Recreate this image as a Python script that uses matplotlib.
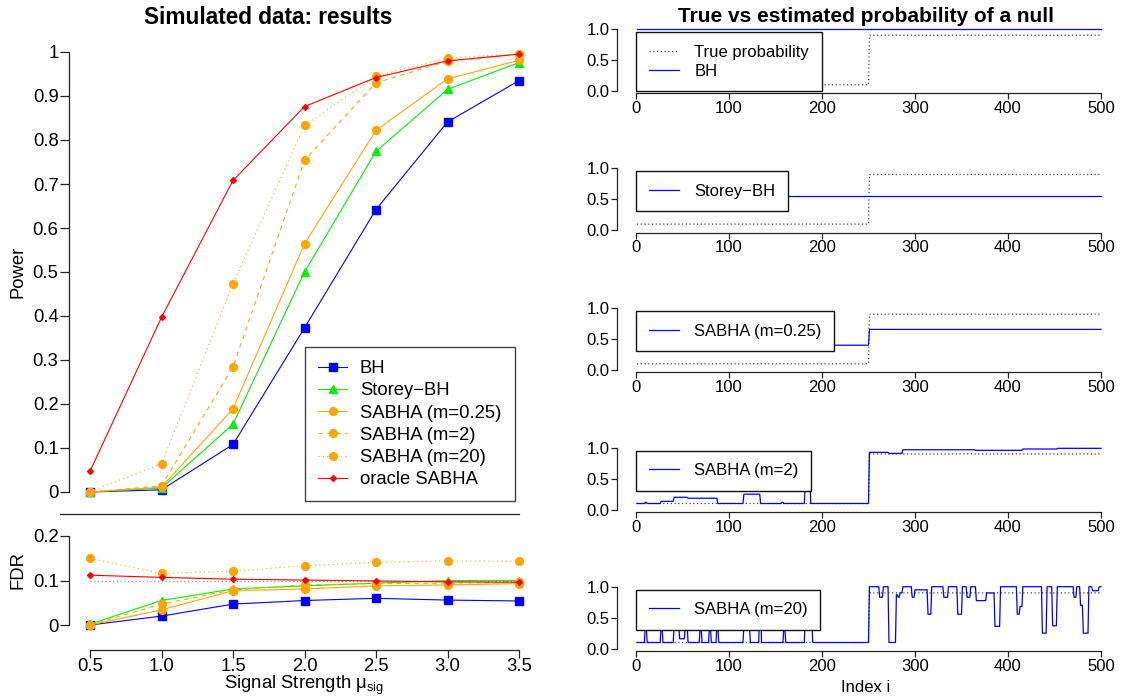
import numpy as np
import matplotlib
matplotlib.use("Agg")
import matplotlib.pyplot as plt

plt.rcParams['font.family'] = ['Liberation Sans', 'DejaVu Sans']
plt.rcParams['mathtext.fontset'] = 'custom'
plt.rcParams['mathtext.rm'] = 'Liberation Sans'
plt.rcParams['mathtext.default'] = 'regular'

# ---------------- data: left panel ----------------
mu = [0.5, 1.0, 1.5, 2.0, 2.5, 3.0, 3.5]
method_names = ["BH", "Storey\u2212BH", "SABHA (m=0.25)", "SABHA (m=2)",
                "SABHA (m=20)", "oracle SABHA"]

power_bh = [0.000, 0.005, 0.108, 0.373, 0.642, 0.841, 0.935]
power_storey = [0.000, 0.009, 0.154, 0.500, 0.774, 0.915, 0.976]
power_sabha_025 = [0.000, 0.011, 0.189, 0.564, 0.822, 0.939, 0.981]
power_sabha_2 = [0.000, 0.014, 0.284, 0.754, 0.930, 0.979, 0.995]
power_sabha_20 = [0.001, 0.064, 0.473, 0.833, 0.945, 0.987, 0.996]
power_oracle = [0.047, 0.397, 0.708, 0.876, 0.942, 0.980, 0.995]

fdr_bh = [0.000, 0.020, 0.047, 0.055, 0.060, 0.056, 0.054]
fdr_storey = [0.002, 0.055, 0.081, 0.088, 0.094, 0.100, 0.100]
fdr_sabha_025 = [0.000, 0.034, 0.077, 0.081, 0.088, 0.090, 0.093]
fdr_sabha_2 = [0.000, 0.047, 0.079, 0.090, 0.093, 0.094, 0.096]
fdr_sabha_20 = [0.150, 0.116, 0.121, 0.133, 0.141, 0.144, 0.143]
fdr_oracle = [0.112, 0.107, 0.103, 0.101, 0.099, 0.097, 0.096]
fdr_level = 0.1

power_ticks = [0.0, 0.1, 0.2, 0.3, 0.4, 0.5, 0.6, 0.7, 0.8, 0.9, 1.0]
power_ticklabels = ["0", "0.1", "0.2", "0.3", "0.4", "0.5", "0.6", "0.7", "0.8", "0.9", "1"]
fdr_ticks = [0.0, 0.1, 0.2]
fdr_ticklabels = ["0", "0.1", "0.2"]
mu_ticklabels = ["0.5", "1.0", "1.5", "2.0", "2.5", "3.0", "3.5"]

# ---------------- data: right panel (piecewise constant, i in (b_k, b_k+1]) ----------------
n_index = 500
true_breaks = [0, 250, 500]
true_levels = [0.1, 0.9]
bh_breaks = [0, 500]
bh_levels = [1.0]
storey_breaks = [0, 500]
storey_levels = [0.55]
m025_breaks = [0, 250, 500]
m025_levels = [0.40, 0.655]
m2_breaks = [0, 9, 11, 26, 40, 55, 87, 115, 133, 156, 158, 181, 187, 250,
             271, 286, 364, 415, 452, 500]
m2_levels = [0.1, 0.12, 0.1, 0.135, 0.2, 0.185, 0.1, 0.25, 0.1, 0.12, 0.1, 0.45, 0.1,
             0.925, 0.909, 0.967, 0.958, 0.979, 0.99]
m20_breaks = [0, 9, 11, 26, 28, 40, 46, 52, 55, 68, 70, 78, 80, 86, 88, 115, 122, 132, 134,
              158, 160, 181, 189, 250, 261, 265, 271, 279, 281, 283, 286, 296, 299, 313,
              317, 330, 335, 345, 350, 355, 359, 365, 376, 385, 391, 409, 412, 415, 436,
              441, 447, 452, 470, 473, 477, 480, 486, 490, 497, 500]
m20_levels = [0.1, 0.36, 0.1, 0.36, 0.1, 0.36, 0.16, 0.36, 0.1, 0.36, 0.1, 0.36, 0.1, 0.36,
              0.1, 0.36, 0.1, 0.76, 0.1, 0.36, 0.1, 0.57, 0.1,
              1.0, 0.83, 1.0, 0.1, 0.87, 0.83, 0.9, 1.0, 0.83, 0.95, 0.556,
              1.0, 0.83, 1.0, 0.556, 1.0, 0.83, 1.0, 0.775, 0.9, 0.36, 1.0, 0.556, 0.68,
              1.0, 0.25, 1.0, 0.37, 1.0, 0.83, 1.0, 0.7, 0.25, 1.0, 0.935, 1.0]
right_labels = ["BH", "Storey\u2212BH", "SABHA (m=0.25)", "SABHA (m=2)", "SABHA (m=20)"]
right_xticks = [0, 100, 200, 300, 400, 500]
right_yticks = [0.0, 0.5, 1.0]
right_yticklabels = ["0.0", "0.5", "1.0"]


def expand(breaks, levels):
    idx = np.arange(1, n_index + 1)
    pos = np.searchsorted(np.asarray(breaks), idx, side='left') - 1
    return idx, np.asarray(levels)[pos]


# ---------------- figure layout helpers ----------------
W, H = 1122, 696
fig = plt.figure(figsize=(W / 100, H / 100), dpi=100)


def box(left, top, right, bottom):
    return [left / W, 1 - bottom / H, (right - left) / W, (bottom - top) / H]


AX_COL = '#222222'
BLUE, GREEN, ORANGE, RED = '#0000FF', '#00F000', '#FFA500', '#FF0000'
LFS = 13.3
RFS = 12.0

styles = [
    dict(color=BLUE, marker='s', ms=5.2, ls='-'),
    dict(color=GREEN, marker='^', ms=5.8, ls='-'),
    dict(color=ORANGE, marker='o', ms=5.6, ls='-'),
    dict(color=ORANGE, marker='o', ms=5.6, ls=(0, (4, 4))),
    dict(color=ORANGE, marker='o', ms=5.6, ls=(0, (1, 3))),
    dict(color=RED, marker='D', ms=3.0, ls='-'),
]
power_series = [power_bh, power_storey, power_sabha_025, power_sabha_2, power_sabha_20, power_oracle]
fdr_series = [fdr_bh, fdr_storey, fdr_sabha_025, fdr_sabha_2, fdr_sabha_20, fdr_oracle]

# x mapping: 0.5 -> px 90, 143 px per unit
xl = (0.5 + (69 - 90) / 143, 0.5 + (540 - 90) / 143)

# ---- power axes ----
ax_p = fig.add_axes(box(69, 40, 540, 514))
ax_p.set_xlim(*xl)
ax_p.set_ylim((492 - 514) / 440, (492 - 40) / 440)
for s in ['top', 'right']:
    ax_p.spines[s].set_visible(False)
ax_p.spines['left'].set_bounds(0, 1)
ax_p.spines['bottom'].set_bounds(0.5 + (60 - 90) / 143, 3.5)
for s in ['left', 'bottom']:
    ax_p.spines[s].set_color(AX_COL)
    ax_p.spines[s].set_linewidth(0.9)
ax_p.tick_params(axis='x', bottom=False, labelbottom=False)
ax_p.set_yticks(power_ticks)
ax_p.set_yticklabels(power_ticklabels)
ax_p.tick_params(axis='y', length=6.5, width=0.9, pad=1, labelsize=LFS, color=AX_COL)

handles = []
for vals, st, name in zip(power_series, styles, method_names):
    h, = ax_p.plot(mu, vals, color=st['color'], marker=st['marker'], ms=st['ms'],
                   ls=st['ls'], lw=0.8, mec=st['color'], mfc=st['color'], label=name)
    handles.append(h)

leg = ax_p.legend(handles=handles, loc='upper left',
                  bbox_to_anchor=(305 / W, 1 - 347 / H), bbox_transform=fig.transFigure,
                  fontsize=LFS, frameon=True, fancybox=False, borderaxespad=0,
                  borderpad=0.72, handlelength=1.55, handletextpad=0.7, labelspacing=0.28,
                  numpoints=1, framealpha=1)
leg.get_frame().set_edgecolor('#444444')
leg.get_frame().set_linewidth(1.0)

# ---- FDR axes ----
ax_f = fig.add_axes(box(69, 516, 540, 650))
ax_f.set_xlim(*xl)
ax_f.set_ylim((625 - 650) / 445, (625 - 516) / 445)
for s in ['top', 'right']:
    ax_f.spines[s].set_visible(False)
ax_f.spines['left'].set_bounds(0, 0.2)
ax_f.spines['bottom'].set_bounds(0.5, 3.5)
for s in ['left', 'bottom']:
    ax_f.spines[s].set_color(AX_COL)
    ax_f.spines[s].set_linewidth(0.9)
ax_f.set_yticks(fdr_ticks)
ax_f.set_yticklabels(fdr_ticklabels)
ax_f.set_xticks(mu)
ax_f.set_xticklabels(mu_ticklabels)
ax_f.tick_params(length=6.5, width=0.9, pad=1, labelsize=LFS, color=AX_COL)
ax_f.tick_params(axis='x', length=5.5, pad=0)
ax_f.plot(mu, [fdr_level] * len(mu), color='#999999', ls=(0, (1, 2)), lw=0.9)
for vals, st in zip(fdr_series, styles):
    ax_f.plot(mu, vals, color=st['color'], marker=st['marker'], ms=st['ms'],
              ls=st['ls'], lw=0.8, mec=st['color'], mfc=st['color'])

fig.text(268.5 / W, 1 - 18 / H, "Simulated data: results", ha='center', va='center',
         fontsize=16.3, fontweight='bold')
fig.text(18 / W, 1 - 272 / H, "Power", rotation=90, ha='center', va='center', fontsize=LFS)
fig.text(18 / W, 1 - 570 / H, "FDR", rotation=90, ha='center', va='center', fontsize=LFS)
fig.text(304.5 / W, 1 - 689 / H, "Signal Strength \u03bc$_{sig}$", ha='center', va='baseline',
         fontsize=LFS)

# ---------------- right panel ----------------
true_x, true_y = expand(true_breaks, true_levels)
est_series = [expand(bh_breaks, bh_levels), expand(storey_breaks, storey_levels),
              expand(m025_breaks, m025_levels), expand(m2_breaks, m2_levels),
              expand(m20_breaks, m20_levels)]
tops = [29, 168.3, 308, 447.7, 586.7]
ypx = 62.0
x0px, xscale = 636, 465 / 500
for k, (top1, (ex, ey), lab) in enumerate(zip(tops, est_series, right_labels)):
    zero = top1 + ypx
    ax = fig.add_axes(box(x0px - 20 * xscale, top1 - 0.04 * ypx,
                          x0px + 520 * xscale, zero + 0.04 * ypx))
    ax.set_xlim(-20, 520)
    ax.set_ylim(-0.04, 1.04)
    for s in ['top', 'right']:
        ax.spines[s].set_visible(False)
    ax.spines['left'].set_bounds(0, 1)
    ax.spines['bottom'].set_bounds(0, 500)
    for s in ['left', 'bottom']:
        ax.spines[s].set_color(AX_COL)
        ax.spines[s].set_linewidth(0.9)
    ax.set_xticks(right_xticks)
    ax.set_yticks(right_yticks)
    ax.set_yticklabels(right_yticklabels)
    ax.tick_params(length=4.5, width=0.9, pad=1, labelsize=RFS, color=AX_COL)
    ht, = ax.plot(true_x, true_y, color='#444444', ls=(0, (1, 2)), lw=0.9)
    he, = ax.plot(ex, ey, color=BLUE, lw=0.9)
    if k == 0:
        hh, ll = [ht, he], ["True probability", lab]
    else:
        hh, ll = [he], [lab]
    lg = ax.legend(hh, ll, loc='upper left', bbox_to_anchor=(0, 0.95),
                   bbox_transform=ax.transData, fontsize=RFS, frameon=True, fancybox=False,
                   borderaxespad=0, borderpad=0.75, handlelength=1.8, handletextpad=0.95,
                   labelspacing=0.25, framealpha=1)
    lg.get_frame().set_edgecolor('#111111')
    lg.get_frame().set_linewidth(1.0)
    if k == len(tops) - 1:
        fig.text(866 / W, 1 - 687 / H, "Index i", ha='center', va='center', fontsize=RFS)

fig.text(866 / W, 1 - 17 / H, "True vs estimated probability of a null", ha='center',
         va='center', fontsize=15.0, fontweight='bold')

fig.savefig("out.png", dpi=100)
